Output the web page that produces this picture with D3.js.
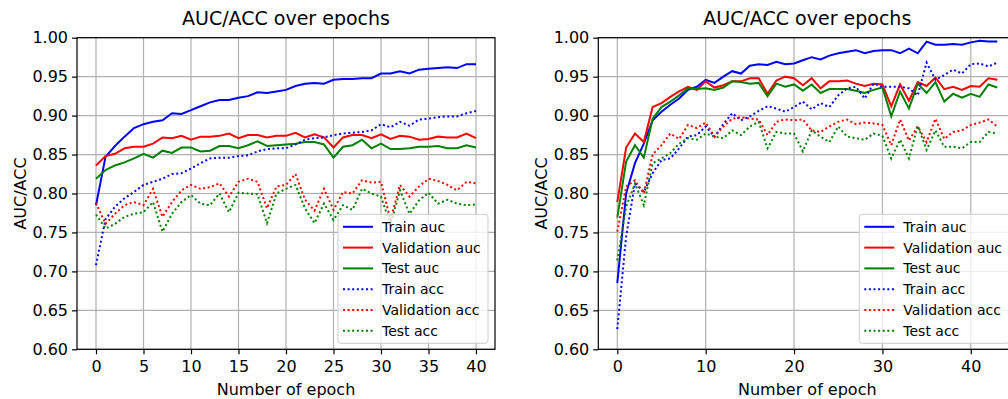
<!DOCTYPE html>
<html lang="en">
<head>
<meta charset="UTF-8" />
<title>AUC/ACC over epochs</title>
<script src="https://d3js.org/d3.v7.min.js"></script>
<style>
  body { margin: 0; background: #fff; font-family: 'DejaVu Sans', sans-serif; }
  svg text { fill: #000; }
  .grid line { stroke: #b0b0b0; stroke-width: 1.2; }
  .axis path { display: none; }
  .axis line { stroke: #000; stroke-width: 1.2; }
  .axis text { font-size: 16px; font-family: 'DejaVu Sans', sans-serif; }
  .frame { fill: none; stroke: #000; stroke-width: 1.2; }
  .line { fill: none; stroke-width: 2; }
  .dotted { stroke-dasharray: 2, 2.6; }
  .legend-box { fill: #fff; fill-opacity: 0.8; stroke: #ccc; stroke-width: 1; }
</style>
</head>
<body>
<svg id="chart" width="1008" height="399"></svg>
<script>
  // series names, colours and line style (solid = auc, dotted = acc)
  const seriesNames = ["Train auc", "Validation auc", "Test auc", "Train acc", "Validation acc", "Test acc"];
  const seriesColors = ["#0000ff", "#ff0000", "#008000", "#0000ff", "#ff0000", "#008000"];
  const seriesDotted = [false, false, false, true, true, true];

  const yTicks = [0.60, 0.65, 0.70, 0.75, 0.80, 0.85, 0.90, 0.95, 1.00];

  // left chart: epochs 0..40
  const epochsLeft = d3.range(41);
  const xTicksLeft = [0, 5, 10, 15, 20, 25, 30, 35, 40];
  const trainAucLeft = [0.785, 0.847, 0.861, 0.873, 0.884, 0.889, 0.892, 0.894, 0.903, 0.902,
    0.907, 0.912, 0.917, 0.920, 0.920, 0.923, 0.925, 0.930, 0.929, 0.931,
    0.933, 0.938, 0.941, 0.942, 0.941, 0.946, 0.947, 0.947, 0.948, 0.948,
    0.954, 0.954, 0.957, 0.954, 0.959, 0.960, 0.961, 0.962, 0.961, 0.966, 0.966];
  const valAucLeft = [0.836, 0.848, 0.851, 0.858, 0.860, 0.860, 0.864, 0.872, 0.871, 0.874,
    0.869, 0.873, 0.873, 0.874, 0.877, 0.871, 0.875, 0.875, 0.872, 0.874,
    0.874, 0.878, 0.872, 0.876, 0.872, 0.859, 0.872, 0.875, 0.875, 0.871,
    0.876, 0.870, 0.874, 0.873, 0.869, 0.870, 0.873, 0.872, 0.872, 0.877, 0.871];
  const testAucLeft = [0.819, 0.830, 0.836, 0.840, 0.845, 0.851, 0.846, 0.855, 0.852, 0.859,
    0.859, 0.854, 0.855, 0.861, 0.861, 0.858, 0.862, 0.867, 0.861, 0.862,
    0.863, 0.864, 0.866, 0.866, 0.863, 0.846, 0.860, 0.862, 0.869, 0.858,
    0.864, 0.857, 0.857, 0.858, 0.860, 0.860, 0.861, 0.858, 0.858, 0.862, 0.859];
  const trainAccLeft = [0.708, 0.767, 0.783, 0.794, 0.802, 0.811, 0.815, 0.819, 0.825, 0.826,
    0.832, 0.839, 0.845, 0.846, 0.846, 0.848, 0.849, 0.854, 0.857, 0.858,
    0.858, 0.863, 0.869, 0.871, 0.872, 0.875, 0.877, 0.878, 0.879, 0.881,
    0.889, 0.885, 0.892, 0.887, 0.895, 0.896, 0.898, 0.899, 0.899, 0.903, 0.906];
  const valAccLeft = [0.788, 0.761, 0.774, 0.785, 0.789, 0.785, 0.806, 0.770, 0.789, 0.804,
    0.811, 0.806, 0.808, 0.813, 0.796, 0.815, 0.819, 0.815, 0.781, 0.809,
    0.811, 0.825, 0.792, 0.778, 0.806, 0.779, 0.802, 0.800, 0.817, 0.814,
    0.815, 0.766, 0.811, 0.796, 0.809, 0.819, 0.816, 0.811, 0.804, 0.815, 0.813];
  const testAccLeft = [0.773, 0.755, 0.761, 0.770, 0.774, 0.776, 0.789, 0.751, 0.774, 0.789,
    0.798, 0.787, 0.785, 0.800, 0.776, 0.801, 0.800, 0.799, 0.762, 0.800,
    0.806, 0.811, 0.781, 0.762, 0.787, 0.766, 0.785, 0.779, 0.806, 0.800,
    0.796, 0.760, 0.804, 0.774, 0.791, 0.801, 0.787, 0.792, 0.787, 0.785, 0.786];

  // right chart: epochs 0..43
  const epochsRight = d3.range(44);
  const xTicksRight = [0, 10, 20, 30, 40];
  const trainAucRight = [0.685, 0.800, 0.839, 0.864, 0.894, 0.905, 0.914, 0.922, 0.933, 0.937,
    0.946, 0.942, 0.950, 0.957, 0.954, 0.964, 0.966, 0.965, 0.969, 0.966,
    0.967, 0.971, 0.975, 0.972, 0.977, 0.980, 0.982, 0.984, 0.980, 0.983,
    0.984, 0.984, 0.980, 0.986, 0.980, 0.995, 0.991, 0.991, 0.992, 0.991,
    0.994, 0.996, 0.995, 0.995];
  const valAucRight = [0.789, 0.859, 0.877, 0.866, 0.911, 0.916, 0.924, 0.931, 0.937, 0.933,
    0.944, 0.936, 0.939, 0.944, 0.944, 0.948, 0.948, 0.928, 0.945, 0.950,
    0.948, 0.939, 0.948, 0.935, 0.944, 0.944, 0.945, 0.941, 0.938, 0.941,
    0.940, 0.912, 0.940, 0.919, 0.943, 0.938, 0.949, 0.934, 0.937, 0.933,
    0.938, 0.937, 0.948, 0.946];
  const testAucRight = [0.769, 0.841, 0.862, 0.846, 0.896, 0.911, 0.918, 0.926, 0.935, 0.934,
    0.935, 0.933, 0.936, 0.944, 0.943, 0.941, 0.942, 0.925, 0.941, 0.937,
    0.940, 0.932, 0.940, 0.929, 0.934, 0.934, 0.934, 0.932, 0.929, 0.933,
    0.936, 0.899, 0.931, 0.909, 0.941, 0.929, 0.943, 0.918, 0.928, 0.923,
    0.928, 0.924, 0.940, 0.936];
  const trainAccRight = [0.626, 0.745, 0.813, 0.802, 0.826, 0.843, 0.845, 0.858, 0.873, 0.875,
    0.886, 0.873, 0.889, 0.903, 0.894, 0.899, 0.906, 0.912, 0.909, 0.905,
    0.911, 0.918, 0.908, 0.916, 0.911, 0.926, 0.935, 0.937, 0.922, 0.941,
    0.937, 0.937, 0.937, 0.935, 0.926, 0.968, 0.946, 0.952, 0.959, 0.954,
    0.966, 0.967, 0.963, 0.968];
  const valAccRight = [0.751, 0.809, 0.817, 0.800, 0.850, 0.862, 0.877, 0.870, 0.888, 0.884,
    0.891, 0.873, 0.886, 0.896, 0.898, 0.896, 0.895, 0.875, 0.892, 0.895,
    0.894, 0.895, 0.881, 0.879, 0.886, 0.892, 0.895, 0.889, 0.891, 0.890,
    0.888, 0.862, 0.895, 0.868, 0.886, 0.866, 0.896, 0.870, 0.879, 0.881,
    0.888, 0.891, 0.895, 0.886];
  const testAccRight = [0.714, 0.783, 0.813, 0.785, 0.839, 0.845, 0.852, 0.864, 0.871, 0.869,
    0.877, 0.873, 0.871, 0.881, 0.875, 0.886, 0.892, 0.858, 0.879, 0.877,
    0.877, 0.854, 0.881, 0.873, 0.866, 0.886, 0.873, 0.871, 0.869, 0.877,
    0.874, 0.845, 0.869, 0.845, 0.887, 0.856, 0.881, 0.860, 0.860, 0.858,
    0.866, 0.866, 0.879, 0.877];

  const panels = [
    { left: 77, right: 495, xDomain: [-2, 42], epochs: epochsLeft, xTicks: xTicksLeft,
      series: [trainAucLeft, valAucLeft, testAucLeft, trainAccLeft, valAccLeft, testAccLeft] },
    { left: 598.3, right: 1016.3, xDomain: [-2.15, 45.15], epochs: epochsRight, xTicks: xTicksRight,
      series: [trainAucRight, valAucRight, testAucRight, trainAccRight, valAccRight, testAccRight] }
  ];

  const plotTop = 37.7, plotBottom = 349.3;
  const svg = d3.select("#chart");

  panels.forEach((p, pi) => {
    const x = d3.scaleLinear().domain(p.xDomain).range([p.left, p.right]);
    const y = d3.scaleLinear().domain([0.6, 1.0]).range([plotBottom, plotTop]);
    const g = svg.append("g");

    // grid
    const grid = g.append("g").attr("class", "grid");
    grid.selectAll(".gx").data(p.xTicks).join("line").attr("class", "gx")
      .attr("x1", d => x(d)).attr("x2", d => x(d))
      .attr("y1", plotTop).attr("y2", plotBottom);
    grid.selectAll(".gy").data(yTicks).join("line").attr("class", "gy")
      .attr("x1", p.left).attr("x2", p.right)
      .attr("y1", d => y(d)).attr("y2", d => y(d));

    // clip for lines
    const clipId = "clip" + pi;
    svg.append("clipPath").attr("id", clipId).append("rect")
      .attr("x", p.left).attr("y", plotTop)
      .attr("width", p.right - p.left).attr("height", plotBottom - plotTop);

    const lines = g.append("g").attr("clip-path", `url(#${clipId})`);
    p.series.forEach((vals, i) => {
      const line = d3.line().x((d, k) => x(p.epochs[k])).y(d => y(d));
      lines.append("path")
        .datum(vals)
        .attr("class", "line" + (seriesDotted[i] ? " dotted" : ""))
        .attr("stroke", seriesColors[i])
        .attr("d", line);
    });

    // axes
    g.append("g").attr("class", "axis")
      .attr("transform", `translate(0,${plotBottom})`)
      .call(d3.axisBottom(x).tickValues(p.xTicks).tickSize(5).tickPadding(6).tickFormat(d3.format("d")));
    g.append("g").attr("class", "axis")
      .attr("transform", `translate(${p.left},0)`)
      .call(d3.axisLeft(y).tickValues(yTicks).tickSize(5).tickPadding(4).tickFormat(d3.format(".2f")));

    g.append("rect").attr("class", "frame")
      .attr("x", p.left).attr("y", plotTop)
      .attr("width", p.right - p.left).attr("height", plotBottom - plotTop);

    const cx = (p.left + p.right) / 2;
    g.append("text").attr("x", cx).attr("y", 25)
      .attr("text-anchor", "middle").style("font-size", "19px")
      .text("AUC/ACC over epochs");
    g.append("text").attr("x", cx).attr("y", 395)
      .attr("text-anchor", "middle").style("font-size", "16px")
      .text("Number of epoch");
    g.append("text")
      .attr("transform", `translate(${p.left - 51},${(plotTop + plotBottom) / 2}) rotate(-90)`)
      .attr("text-anchor", "middle").style("font-size", "16px")
      .text("AUC/ACC");

    // legend, lower right
    const lw = 150, lh = 129;
    const lx = p.right - 7 - lw, ly = plotBottom - 6 - lh;
    const leg = g.append("g").attr("transform", `translate(${lx},${ly})`);
    leg.append("rect").attr("class", "legend-box")
      .attr("width", lw).attr("height", lh).attr("rx", 3);
    seriesNames.forEach((name, i) => {
      const ry = 12.5 + i * 20.8;
      leg.append("line")
        .attr("class", "line" + (seriesDotted[i] ? " dotted" : ""))
        .attr("x1", 5).attr("x2", 35).attr("y1", ry).attr("y2", ry)
        .attr("stroke", seriesColors[i]);
      leg.append("text").attr("x", 44).attr("y", ry).attr("dy", "0.36em")
        .style("font-size", "14px").text(name);
    });
  });
</script>
</body>
</html>
